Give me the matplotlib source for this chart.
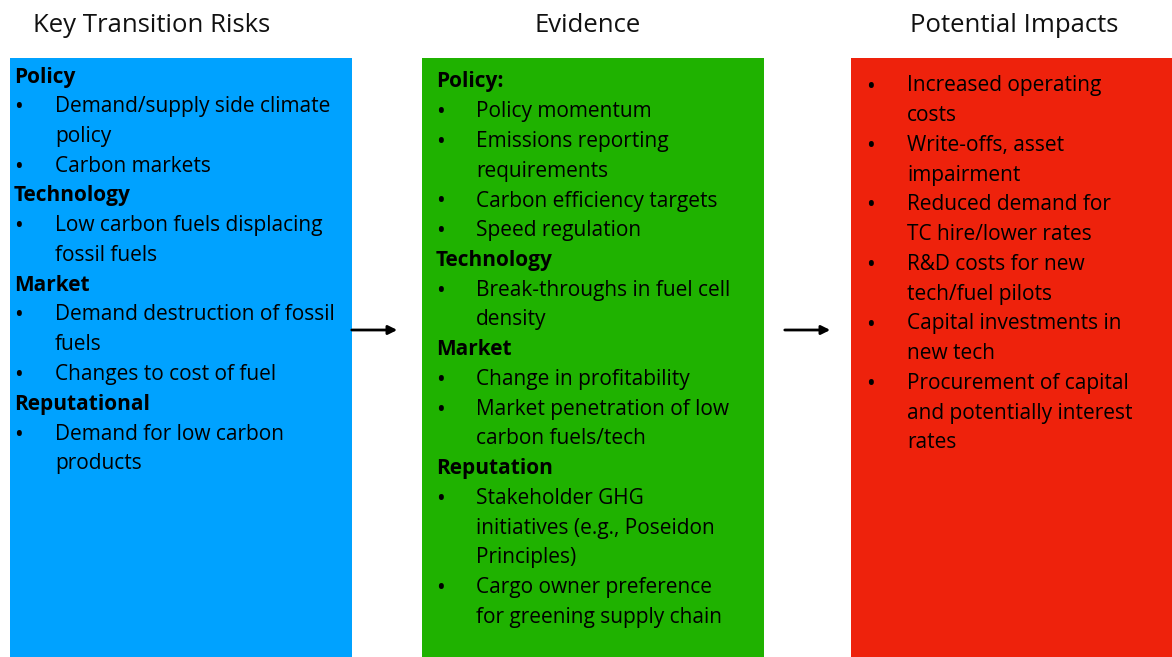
import matplotlib.pyplot as plt
from matplotlib.patches import Rectangle

# Contenu du schéma : titres des colonnes et lignes de texte (type, texte)
titles = ["Key Transition Risks", "Evidence", "Potential Impacts"]

risks = [
    ("h", "Policy"),
    ("b", "Demand/supply side climate"), ("c", "policy"),
    ("b", "Carbon markets"),
    ("h", "Technology"),
    ("b", "Low carbon fuels displacing"), ("c", "fossil fuels"),
    ("h", "Market"),
    ("b", "Demand destruction of fossil"), ("c", "fuels"),
    ("b", "Changes to cost of fuel"),
    ("h", "Reputational"),
    ("b", "Demand for low carbon"), ("c", "products"),
]

evidence = [
    ("h", "Policy:"),
    ("b", "Policy momentum"),
    ("b", "Emissions reporting"), ("c", "requirements"),
    ("b", "Carbon efficiency targets"),
    ("b", "Speed regulation"),
    ("h", "Technology"),
    ("b", "Break-throughs in fuel cell"), ("c", "density"),
    ("h", "Market"),
    ("b", "Change in profitability"),
    ("b", "Market penetration of low"), ("c", "carbon fuels/tech"),
    ("h", "Reputation"),
    ("b", "Stakeholder GHG"), ("c", "initiatives (e.g., Poseidon"), ("c", "Principles)"),
    ("b", "Cargo owner preference"), ("c", "for greening supply chain"),
]

impacts = [
    ("b", "Increased operating"), ("c", "costs"),
    ("b", "Write-offs, asset"), ("c", "impairment"),
    ("b", "Reduced demand for"), ("c", "TC hire/lower rates"),
    ("b", "R&D costs for new"), ("c", "tech/fuel pilots"),
    ("b", "Capital investments in"), ("c", "new tech"),
    ("b", "Procurement of capital"), ("c", "and potentially interest"),
    ("c", "rates"),
]

W, H = 1172, 657
plt.rcParams["font.family"] = ["Open Sans", "DejaVu Sans"]

fig = plt.figure(figsize=(W / 100, H / 100), dpi=100)
ax = fig.add_axes([0, 0, 1, 1])
ax.set_xlim(0, W)
ax.set_ylim(H, 0)
ax.axis("off")

# colonnes : (x0, x1, couleur, lignes, y première ligne, x puce, x texte, x titre, centre titre)
cols = [
    (10, 352, "#00A2FF", risks, 77, 18, 55, 14, 152),
    (422, 764, "#1FB200", evidence, 82, 440, 476, 436, 588),
    (851, 1172, "#EE220C", impacts, 86, 870, 907, 870, 1014),
]
step = 29.75
fs = 15

for (x0, x1, color, lines, y0, xb, xt, xh, xc), title in zip(cols, titles):
    ax.add_patch(Rectangle((x0, 58), x1 - x0, H - 58, facecolor=color,
                           edgecolor="none"))
    ax.text(xc, 25, title, ha="center", va="center", fontsize=18.5,
            color="#111111")
    for i, (kind, txt) in enumerate(lines):
        y = y0 + i * step
        if kind == "h":
            ax.text(xh, y, txt, ha="left", va="center", fontsize=fs,
                    fontweight="bold", color="black")
        else:
            if kind == "b":
                ax.text(xb, y + 0.5, "•", ha="center", va="center",
                        fontsize=13, fontweight="bold", color="black")
            ax.text(xt, y, txt, ha="left", va="center", fontsize=fs,
                    color="black")

# flèches
for xa, xb_ in [(349, 400), (782, 833)]:
    ax.annotate("", xy=(xb_, 330), xytext=(xa, 330),
                arrowprops=dict(arrowstyle="-|>", color="black", lw=2,
                                mutation_scale=13))

fig.savefig("out.png", dpi=100)
